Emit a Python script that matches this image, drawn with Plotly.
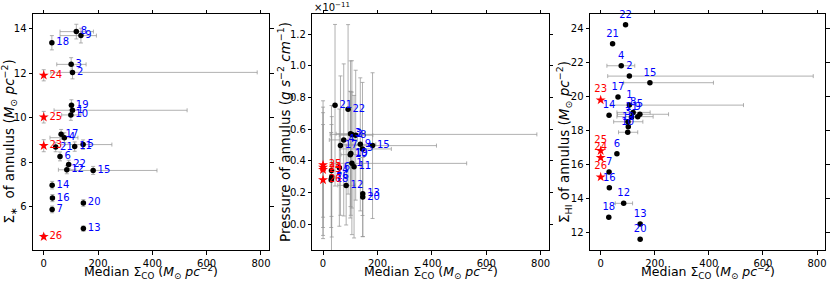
import plotly.graph_objects as go

# ---------------- data ----------------
ids = [str(i) for i in range(1, 27)]
median_sco = [106, 106, 101, 76, 145, 60, 31, 120, 137, 100, 114, 85, 146, 31, 182, 32, 64, 30, 102, 146, 44, 92, 0, 0, 0, 0]
sco_err_minus = [68, 80, 53, 53, 83, 0, 0, 60, 77, 34, 0, 31, 0, 0, 97, 0, 0, 0, 0, 0, 0, 0, 0, 0, 0, 0]
sco_err_plus = [422, 680, 55, 50, 106, 0, 0, 63, 57, 37, 0, 33, 0, 0, 235, 0, 0, 0, 0, 0, 0, 0, 0, 0, 0, 0]

sigma_star = [10.34, 12.04, 12.40, 9.11, 8.80, 8.27, 5.89, 13.87, 13.69, 10.13, 8.71, 7.67, 5.03, 6.98, 7.64, 6.40, 9.26, 13.37, 10.56, 6.18, 8.69, 7.91, 8.75, 11.91, 10.03, 4.67]
sigma_star_err = [0.25, 0.29, 0.30, 0.22, 0.21, 0.20, 0.15, 0.33, 0.33, 0.24, 0.21, 0.18, 0.12, 0.17, 0.18, 0.16, 0.22, 0.32, 0.25, 0.15, 0.21, 0.19, 0.27, 0.25, 0.26, 0.10]

pressure_e11 = [0.385, 0.568, 0.572, 0.533, 0.476, 0.358, 0.29, 0.563, 0.505, 0.44, 0.364, 0.246, 0.193, 0.34, 0.497, 0.30, 0.497, 0.28, 0.447, 0.172, 0.752, 0.726, 0.345, 0.36, 0.375, 0.28]
pressure_err_e11 = [0.45, 0.465, 0.46, 0.48, 0.42, 0.37, 0.46, 0.41, 0.42, 0.40, 0.45, 0.25, 0.27, 0.29, 0.46, 0.38, 0.44, 0.30, 0.39, 0.25, 0.51, 0.535, 0.435, 0.38, 0.33, 0.35]

sigma_hi = [19.50, 21.21, 18.52, 21.82, 18.96, 16.63, 15.56, 19.07, 18.82, 17.90, 18.78, 13.71, 12.49, 18.90, 20.82, 14.63, 19.98, 12.89, 18.23, 11.59, 23.12, 24.24, 19.80, 16.40, 16.81, 15.26]

x_ticks = [0, 200, 400, 600, 800]
y1_ticks = [6, 8, 10, 12, 14]
y2_ticks = [0.0, 0.2, 0.4, 0.6, 0.8, 1.0, 1.2]
y3_ticks = [12, 14, 16, 18, 20, 22, 24]

# ---------------- layout helpers ----------------
W, H = 830, 284
FONT = "DejaVu Sans"
ERR_COL = "rgba(150,150,150,0.75)"

n_black = 22
blk = slice(0, n_black)
red = slice(n_black, 26)

panels = [
    dict(px=(33, 269), y=sigma_star, yerr=sigma_star_err, yrange=[4.07, 14.66], yticks=y1_ticks, fmt=None, tp="middle right"),
    dict(px=(312.3, 548.7), y=pressure_e11, yerr=pressure_err_e11, yrange=[-0.162, 1.328], yticks=y2_ticks, fmt=".1f", tp="middle right"),
    dict(px=(590, 825), y=sigma_hi, yerr=None, yrange=[10.96, 24.87], yticks=y3_ticks, fmt=None, tp="top center"),
]

top_px, bot_px = 14, 250
ydom = [1 - bot_px / H, 1 - top_px / H]

fig = go.Figure()
layout = dict(
    width=W, height=H, margin=dict(l=0, r=0, t=0, b=0, pad=0, autoexpand=False),
    paper_bgcolor="white", plot_bgcolor="white", showlegend=False,
    font=dict(family=FONT, size=10, color="black"),
)

for k, p in enumerate(panels):
    xa = "x" if k == 0 else f"x{k+1}"
    ya = "y" if k == 0 else f"y{k+1}"
    for sl, color, sym, size in [(blk, "black", "circle", 5.5), (red, "red", "star", 7.5)]:
        ex = dict(type="data", symmetric=False, array=sco_err_plus[sl], arrayminus=sco_err_minus[sl],
                  color=ERR_COL, thickness=1, width=2)
        ey = None
        if p["yerr"] is not None:
            ey = dict(type="data", array=p["yerr"][sl], color=ERR_COL, thickness=1, width=2)
        fig.add_trace(go.Scatter(
            x=median_sco[sl], y=p["y"][sl], mode="markers+text", text=ids[sl],
            textposition=p["tp"], textfont=dict(family=FONT, size=10, color="blue" if color == "black" else "red"),
            marker=dict(color=color, symbol=sym, size=size, line=dict(width=0)),
            error_x=ex, error_y=ey, xaxis=xa, yaxis=ya, cliponaxis=False,
        ))
    xd = [p["px"][0] / W, p["px"][1] / W]
    axcommon = dict(showgrid=False, zeroline=False, showline=True, linecolor="black", linewidth=1,
                    mirror="ticks", ticks="outside", ticklen=3.5, tickwidth=0.8, tickcolor="black",
                    automargin=False, tickfont=dict(family=FONT, size=10, color="black"))
    layout["xaxis" if k == 0 else f"xaxis{k+1}"] = dict(
        domain=xd, range=[-39.5, 829.5], tickvals=x_ticks, anchor=ya, **axcommon)
    yax = dict(domain=ydom, range=p["yrange"], tickvals=p["yticks"], anchor=xa, **axcommon)
    if p["fmt"]:
        yax["tickformat"] = p["fmt"]
    layout["yaxis" if k == 0 else f"yaxis{k+1}"] = yax

fig.update_layout(**layout)

unit = "(<i>M</i><sub>⊙</sub> <i>pc</i><sup>−2</sup>)"
ann = []
for p in panels:
    ann.append(dict(text="Median Σ<sub>CO</sub> " + unit, x=(p["px"][0] + p["px"][1]) / 2 / W, y=1 - 272 / H,
                    xref="paper", yref="paper", showarrow=False, font=dict(family=FONT, size=12.5),
                    xanchor="center", yanchor="middle"))
ytitles = [("Σ<sub>∗</sub>  of annulus " + unit, 9.5, 142),
           ("Pressure of annulus (<i>g</i> <i>s</i><sup>−2</sup> <i>cm</i><sup>−1</sup>)", 284, 132),
           ("Σ<sub>HI</sub> of annulus " + unit, 564, 142)]
for t, xp, yp in ytitles:
    ann.append(dict(text=t, x=xp / W, y=1 - yp / H, xref="paper", yref="paper", showarrow=False, textangle=-90,
                    font=dict(family=FONT, size=13.5), xanchor="center", yanchor="middle"))
ann.append(dict(text="×10<sup>−11</sup>", x=312 / W, y=1 - 7 / H, xref="paper", yref="paper", showarrow=False,
                font=dict(family=FONT, size=10), xanchor="left", yanchor="middle"))
fig.update_layout(annotations=ann)

fig.write_html("out.html", config={"displayModeBar": False},
               post_script="document.body.style.margin='0';document.body.style.padding='0';"
                           "document.body.style.overflow='hidden';")
